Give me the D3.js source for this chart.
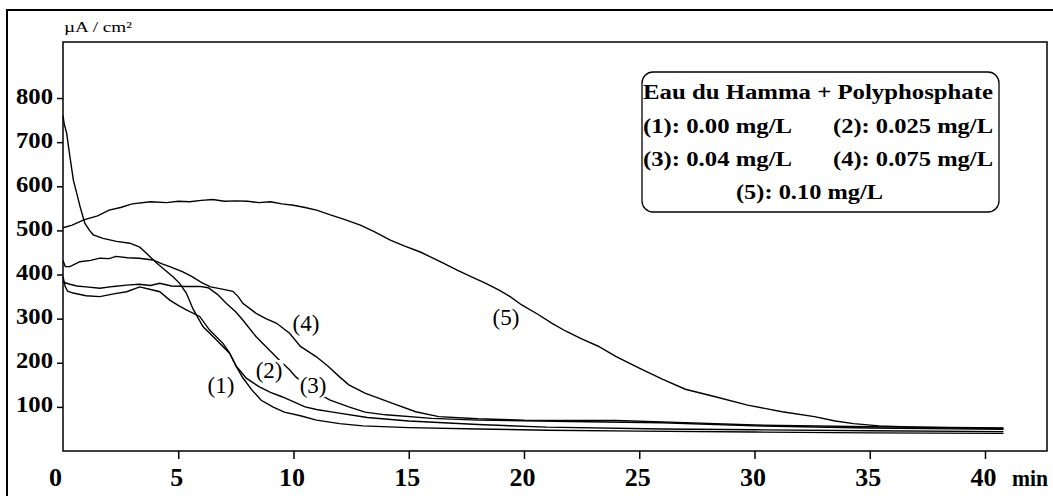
<!DOCTYPE html>
<html><head><meta charset="utf-8">
<script src="https://cdn.jsdelivr.net/npm/d3@7"></script>
<style>body{margin:0;background:#fff}svg{display:block}</style>
</head><body><svg id="c" width="1053" height="496"></svg>
<script>
// ---- data (time in min, current density in µA/cm²) ----
const t1 = [0,0.05,0.16,0.3,0.45,0.63,0.74,0.95,1.15,1.31,1.74,2.32,2.9,3.33,3.62,4.06,4.5,4.77,5.06,5.35,5.64,6.07,6.65,7.23,7.52,7.8,8.2,8.6,9.1,9.6,10.3,11,12,13,15,18,21,25,30,35,40.8];
const v1 = [760,742,720,667,614,577,554,516,500,490,482,475,471,462,448,426,407,395,380,358,322,282,252,221,191,166,138,115,100,88,80,70,62,57,53,50,47,45,43,41,40];
const t2 = [0,0.1,0.2,0.44,1.0,1.6,2.2,2.76,3.33,3.8,4.2,4.63,5.0,5.35,5.93,6.36,6.94,7.23,7.52,7.95,8.5,9.0,9.5,10.5,11.0,11.7,13.2,15,18,21,26,30,35,40.8];
const v2 = [395,372,362,358,352,350,356,361,372,366,361,342,330,320,305,274,244,222,192,165,146,133,123,100,94,88,76,68,60,54,50,48,46,44];
const t3 = [0,0.3,0.6,1.0,1.6,2.2,2.76,3.3,3.8,4.2,4.7,5.35,5.93,6.3,6.7,7.08,7.5,7.8,8.38,8.95,9.4,9.83,10.1,10.8,11.56,12.4,13.1,14,16,18,22,26,30,35,40.8];
const v3 = [383,378,374,372,369,373,376,378,375,380,374,373,373,370,355,335,315,297,259,229,205,184,168,140,116,100,88,82,74,70,67,64,57,52,49];
const t4 = [0,0.1,0.3,0.73,1.2,1.6,2.0,2.3,2.8,3.3,3.9,4.3,4.63,5.2,5.6,6.0,6.4,6.8,7.37,7.6,7.8,8.38,8.8,9.25,9.83,10.3,10.98,11.5,12.0,12.4,13.1,14.3,15.3,16.3,18,20,24,26,30,35,40.8];
const v4 = [432,418,418,429,432,437,436,441,438,437,433,424,418,406,395,382,372,368,362,350,335,312,300,290,267,237,214,192,168,150,131,108,89,78,73,70,69,66,59,55,52];
const t5 = [0,0.4,0.9,1.5,2.0,2.5,3.0,3.8,4.5,5.0,5.5,6.0,6.5,7.0,7.5,8.0,8.5,9.0,9.5,10.0,10.5,11.0,11.6,12.2,12.9,13.5,14.2,14.8,15.5,16.5,17.1,17.7,18.3,18.9,19.4,19.9,20.6,21.2,21.8,22.5,23.2,24.0,25.0,26.0,27.0,28.3,29.7,31.2,32.6,33.5,34.3,35.4,37,39,40.8];
const v5 = [506,512,524,533,546,552,560,565,563,566,565,568,570,566,567,566,563,565,560,557,552,546,535,525,512,497,478,465,451,426,410,395,381,365,350,331,310,290,272,254,238,214,188,163,140,123,104,89,78,68,62,57,54,52,51];

const seriesT = [t1,t2,t3,t4,t5];
const seriesV = [v1,v2,v3,v4,v5];

const xTicks = [0,5,10,15,20,25,30,35,40];
const yTicks = [100,200,300,400,500,600,700,800];
const xUnit = "min";
const yUnit = "µA / cm²";

const curveLabels = ["(1)","(2)","(3)","(4)","(5)"];
const labelT = [6.85, 8.94, 10.85, 10.54, 19.22];
const labelV = [145, 179, 145, 286, 299];
const labelCutsLine = [false, true, true, false, true];

const legendTitle = "Eau du Hamma + Polyphosphate";
const legendItems = ["(1): 0.00 mg/L","(2): 0.025 mg/L","(3): 0.04 mg/L","(4): 0.075 mg/L","(5): 0.10 mg/L"];

// ---- drawing ----
const svg = d3.select("#c");
const serif = "'Liberation Serif','Times New Roman',serif";
const L = 63, R = 1047, T = 42, B = 451;
const x = d3.scaleLinear().domain([0, 42.69]).range([L, R]);
const y = d3.scaleLinear().domain([0, 927]).range([B, T]);

// outer frame (extends beyond the picture on right and bottom)
svg.append("rect").attr("x",7).attr("y",10).attr("width",1200).attr("height",700)
  .attr("fill","none").attr("stroke","#000").attr("stroke-width",2);

// curves
const line = d3.line().x(d=>x(d[0])).y(d=>y(d[1]));
seriesT.forEach((ts,i)=>{
  const pts = ts.map((t,j)=>[t, seriesV[i][j]]);
  svg.append("path").attr("d", line(pts)).attr("fill","none")
    .attr("stroke","#000").attr("stroke-width",1.4).attr("stroke-linejoin","miter");
});

// curve labels (some with white background making a gap in the curve)
curveLabels.forEach((s,i)=>{
  const cx = x(labelT[i]), cy = y(labelV[i]);
  const g = svg.append("g");
  const tx = g.append("text").attr("x",cx).attr("y",cy+6).attr("text-anchor","middle")
    .attr("font-family",serif).attr("font-size",23).attr("fill","#000").text(s);
  if (labelCutsLine[i]) {
    const bb = tx.node().getBBox();
    g.insert("rect","text").attr("x",bb.x-1).attr("y",bb.y+2).attr("width",bb.width+2).attr("height",bb.height-3).attr("fill","#fff");
  }
});

// plot box
svg.append("rect").attr("x",L).attr("y",T).attr("width",R-L).attr("height",B-T)
  .attr("fill","none").attr("stroke","#000").attr("stroke-width",1.5);

// x axis
const gx = svg.append("g").attr("transform",`translate(0,${B})`)
  .call(d3.axisBottom(x).tickValues(xTicks).tickSize(8).tickSizeOuter(0).tickFormat(d3.format("d")));
gx.select(".domain").remove();
gx.selectAll(".tick line").attr("stroke","#000").attr("stroke-width",1.5)
  .filter(d=>d===0).remove();
gx.selectAll(".tick text").attr("font-family",serif).attr("font-size",26).attr("font-weight","bold")
  .attr("fill","#000").attr("y",0).attr("dy",null).attr("transform","translate(-2,34.5)")
  .filter(d=>d===0).attr("transform","translate(-8,34.5)");
svg.append("text").attr("x",1030).attr("y",485.5).attr("text-anchor","middle")
  .attr("font-family",serif).attr("font-size",24).attr("font-weight","bold")
  .attr("textLength",36).attr("lengthAdjust","spacingAndGlyphs").text(xUnit);

// y axis
const gy = svg.append("g").attr("transform",`translate(${L},0)`)
  .call(d3.axisLeft(y).tickValues(yTicks).tickSize(6).tickSizeOuter(0).tickPadding(4));
gy.select(".domain").remove();
gy.selectAll(".tick line").attr("stroke","#000").attr("stroke-width",1.5);
gy.selectAll(".tick text").attr("font-family",serif).attr("font-size",24).attr("font-weight","bold")
  .attr("fill","#000").attr("dy",null).attr("y",5)
  .attr("textLength",37).attr("lengthAdjust","spacingAndGlyphs");
svg.append("text").attr("x",64).attr("y",32).attr("font-family",serif).attr("font-size",14)
  .attr("textLength",68).attr("lengthAdjust","spacingAndGlyphs").text(yUnit);

// legend
const lg = svg.append("g");
lg.append("rect").attr("x",642).attr("y",72).attr("width",357).attr("height",140).attr("rx",11)
  .attr("fill","#fff").attr("stroke","#000").attr("stroke-width",1.3);
const lt = (s,xx,yy,w)=>lg.append("text").attr("x",xx).attr("y",yy).attr("font-family",serif)
  .attr("font-size",20).attr("font-weight","bold").attr("fill","#000")
  .attr("textLength",w).attr("lengthAdjust","spacingAndGlyphs").text(s);
lt(legendTitle, 643, 98.5, 350);
lt(legendItems[0], 643, 132.5, 149);
lt(legendItems[1], 833, 132.5, 160);
lt(legendItems[2], 643, 166, 149);
lt(legendItems[3], 833, 166, 160);
lt(legendItems[4], 736, 198.5, 147);
</script></body></html>
